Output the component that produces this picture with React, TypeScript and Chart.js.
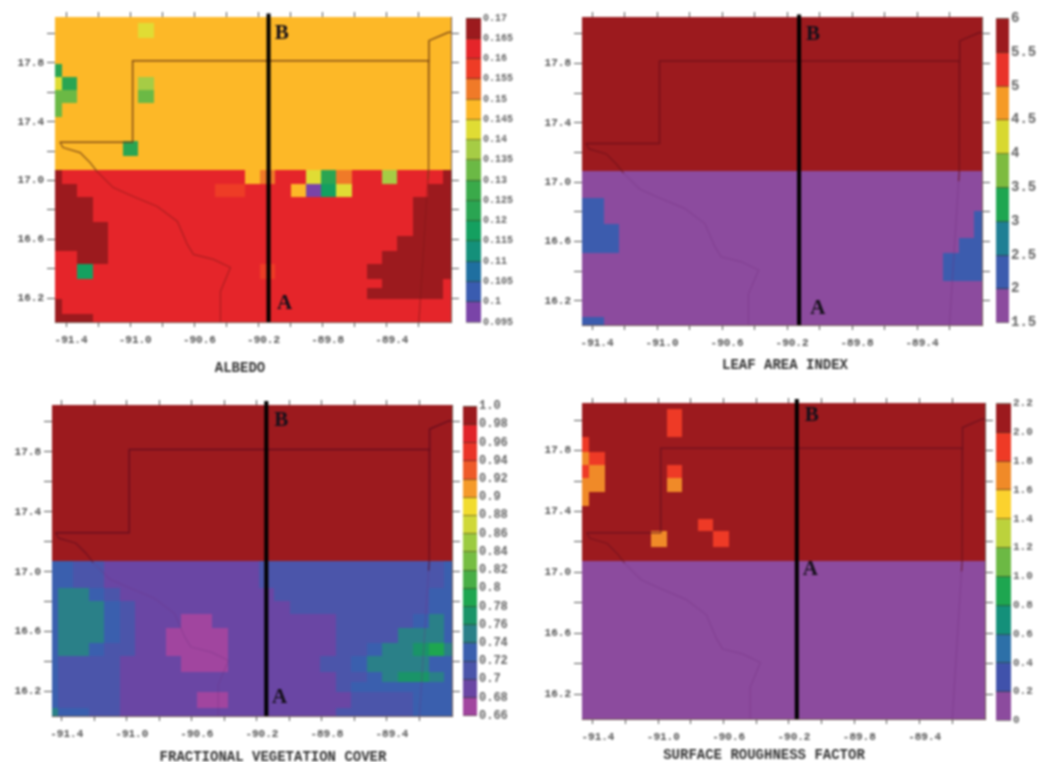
import React, { useEffect, useRef } from "react";
import { Chart, registerables } from "chart.js";

Chart.register(...registerables);

// ---- shared map axes ----
const lonMin = -91.465;
const lonMax = -89.0;
const latMin = 16.037;
const latMax = 18.113;
const xTickValues = [-91.4, -91.2, -91.0, -90.8, -90.6, -90.4, -90.2, -90.0, -89.8, -89.6, -89.4, -89.2];
const xTickLabels = ["-91.4", "", "-91.0", "", "-90.6", "", "-90.2", "", "-89.8", "", "-89.4", ""];
const yTickValues = [16.2, 16.4, 16.6, 16.8, 17.0, 17.2, 17.4, 17.6, 17.8, 18.0];
const yTickLabels = ["16.2", "", "16.6", "", "17.0", "", "17.4", "", "17.8", ""];

// ---- model grid cell edges ----
const lonEdges = [
  lonMin, -91.419, -91.324, -91.229, -91.134, -91.039, -90.944, -90.849, -90.754, -90.659, -90.564, -90.469, -90.374,
  -90.279, -90.184, -90.089, -89.994, -89.899, -89.804, -89.709, -89.614, -89.519, -89.424, -89.329, -89.234, -89.139,
  -89.044, -89.0,
];
const latEdges = [
  18.113, 18.068, 17.966, 17.884, 17.789, 17.7, 17.612, 17.524, 17.429, 17.347, 17.265, 17.163, 17.068, 16.973, 16.884,
  16.796, 16.714, 16.619, 16.517, 16.429, 16.327, 16.259, 16.19, 16.088, 16.037,
];

// ---- map outlines ----
const borderLon = [-91.44, -90.985, -90.985, -89.1375, -89.1375, -89.019, -88.98];
const borderLat = [17.26, 17.26, 17.816, 17.816, 17.952, 18.007, 18.01];
const belizeLon = [-89.1375, -89.14, -89.144, -89.2];
const belizeLat = [17.816, 17.07, 17.007, 16.037];
const riverLon = [-91.4375, -91.419, -91.3125, -91.25, -91.206, -91.106, -90.981, -90.831, -90.706, -90.644, -90.606, -90.481, -90.375, -90.4375, -90.4375, -90.4375];
const riverLat = [17.259, 17.224, 17.19, 17.122, 17.061, 16.952, 16.891, 16.823, 16.721, 16.565, 16.497, 16.463, 16.408, 16.245, 16.068, 16.037];

// ---- albedo: colour-bin index per cell, north to south ----
const albedoLevels = ["0.17", "0.165", "0.16", "0.155", "0.15", "0.145", "0.14", "0.135", "0.13", "0.125", "0.12", "0.115", "0.11", "0.105", "0.1", "0.095"];
const albedoColors = ["#9c1a1e", "#e5252a", "#ee3c26", "#f07a28", "#fdb827", "#e0dc34", "#a6cc45", "#6bb945", "#3aaa4a", "#2aa552", "#14a060", "#14907a", "#1f6fa0", "#3a5cb0", "#7a44a8", "#8c4b9e"];
const albedoRows = [
  "444444444444444444444444444",
  "444444544444444444444444444",
  "444444444444444444444444444",
  "444444444444444444444444444",
  "944444444444444444444444444",
  "594444644444444444444444444",
  "774444744444444444444444444",
  "744444444444444444444444444",
  "444444444444444444444444444",
  "444444444444444444444444444",
  "444449444444444444444444444",
  "444444444444444444444444444",
  "011111111111143115931161110",
  "00111111111221114ea51111100",
  "000111111111111111111111000",
  "000111111111111111111111000",
  "000011111111111111111111000",
  "000011111111111111111110000",
  "110011111111111111111100000",
  "11a111111111112111111000000",
  "111111111111111111111100001",
  "111111111111111111111000001",
  "011111111111111111111111111",
  "000111111111111111111111111",
];

// ---- leaf area index ----
const laiLevels = ["6", "5.5", "5", "4.5", "4", "3.5", "3", "2.5", "2", "1.5"];
const laiColors = ["#9c1a1e", "#e9332a", "#f59a26", "#d8d830", "#7dbb3f", "#1ea650", "#1f7f94", "#3c5cae", "#8c4b9e"];
const laiRows = [
  "000000000000000000000000000",
  "000000000000000000000000000",
  "000000000000000000000000000",
  "000000000000000000000000000",
  "000000000000000000000000000",
  "000000000000000000000000000",
  "000000000000000000000000000",
  "000000000000000000000000000",
  "000000000000000000000000000",
  "000000000000000000000000000",
  "000000000000000000000000000",
  "000000000000000000000000000",
  "888888888888888888888888888",
  "888888888888888888888888888",
  "778888888888888888888888888",
  "778888888888888888888888887",
  "777888888888888888888888887",
  "777888888888888888888888877",
  "888888888888888888888888777",
  "888888888888888888888888777",
  "888888888888888888888888888",
  "888888888888888888888888888",
  "888888888888888888888888888",
  "778888888888888888888888888",
];

// ---- fractional vegetation cover ----
const fvcLevels = ["1.0", "0.98", "0.96", "0.94", "0.92", "0.9", "0.88", "0.86", "0.84", "0.82", "0.8", "0.78", "0.76", "0.74", "0.72", "0.7", "0.68", "0.66"];
const fvcColors = ["#9c1a1e", "#e0242a", "#ea3428", "#ee5a28", "#f59a2a", "#f2dc2e", "#cfd838", "#9ccb40", "#76bd42", "#48ae46", "#1ea650", "#1a9468", "#2a8088", "#3a5fae", "#4b55aa", "#6a46a4", "#a1459f"];
const fvcRows = [
  "000000000000000000000000000",
  "000000000000000000000000000",
  "000000000000000000000000000",
  "000000000000000000000000000",
  "000000000000000000000000000",
  "000000000000000000000000000",
  "000000000000000000000000000",
  "000000000000000000000000000",
  "000000000000000000000000000",
  "000000000000000000000000000",
  "000000000000000000000000000",
  "000000000000000000000000000",
  "ddeeffffffffffeeeeeeeeeeeed",
  "ddeeffffffffffeeeeeeeeeeeed",
  "dccdeffffffffffeeeeeeeeeedd",
  "dcccdeffffffffffeeeeeeeeedd",
  "dcccdefffggffffffffeeeeedcd",
  "dcccdeffggggfffffffeeeecccd",
  "dccdeeffggggfffffffeedccbac",
  "deeeeffffgggffffffeedccccdd",
  "deeeeffffffffffffffeedcbbcd",
  "deeeeffffffffffffffeddddddd",
  "deeeefffffggffffffffeeeeddd",
  "cddeeffffffffffffffeeeeeddd",
];

// ---- surface roughness factor ----
const roughLevels = ["2.2", "2.0", "1.8", "1.6", "1.4", "1.2", "1.0", "0.8", "0.6", "0.4", "0.2", "0"];
const roughColors = ["#9c1a1e", "#ee3a26", "#f08a28", "#fbd22e", "#bcd23c", "#6cb944", "#1ea650", "#14907a", "#2d70a8", "#4052ab", "#8c4b9e"];
const roughRows = [
  "000000000000000000000000000",
  "000000100000000000000000000",
  "000000100000000000000000000",
  "100000000000000000000000000",
  "210000000000000000000000000",
  "120000100000000000000000000",
  "220000200000000000000000000",
  "200000000000000000000000000",
  "000000000000000000000000000",
  "000000001000000000000000000",
  "000002000100000000000000000",
  "000000000000000000000000000",
  "aaaaaaaaaaaaaaaaaaaaaaaaaaa",
  "aaaaaaaaaaaaaaaaaaaaaaaaaaa",
  "aaaaaaaaaaaaaaaaaaaaaaaaaaa",
  "aaaaaaaaaaaaaaaaaaaaaaaaaaa",
  "aaaaaaaaaaaaaaaaaaaaaaaaaaa",
  "aaaaaaaaaaaaaaaaaaaaaaaaaaa",
  "aaaaaaaaaaaaaaaaaaaaaaaaaaa",
  "aaaaaaaaaaaaaaaaaaaaaaaaaaa",
  "aaaaaaaaaaaaaaaaaaaaaaaaaaa",
  "aaaaaaaaaaaaaaaaaaaaaaaaaaa",
  "aaaaaaaaaaaaaaaaaaaaaaaaaaa",
  "aaaaaaaaaaaaaaaaaaaaaaaaaaa",
];

type PanelSpec = {
  title: string;
  rows: string[];
  colors: string[];
  levels: string[];
  xMin: number;
  transectLon: number;
  transectTop: number;
  bLabel: [number, number];
  aLabel: [number, number];
  canvas: { left: number; right: number };
  area: { left: number; right: number; top: number; bottom: number };
  titlePad: number;
  bar: { left: number; right: number; top: number; bottom: number };
  barFont: number;
  borderColor: string;
  riverUpper: string;
  riverLower: string;
};

const panels: PanelSpec[] = [
  {
    title: "ALBEDO", rows: albedoRows, colors: albedoColors, levels: albedoLevels,
    xMin: -91.469, transectLon: -90.1375, transectTop: 18.136,
    bLabel: [-90.056, 18.0], aLabel: [-90.0375, 16.165],
    canvas: { left: 0, right: 480 },
    area: { left: 55, right: 451, top: 17, bottom: 322 }, titlePad: 15,
    bar: { left: 466, right: 481, top: 18, bottom: 322 }, barFont: 10,
    borderColor: "rgba(110,60,20,0.85)", riverUpper: "rgba(110,60,20,0.85)", riverLower: "rgba(130,25,25,0.55)",
  },
  {
    title: "LEAF AREA INDEX", rows: laiRows, colors: laiColors, levels: laiLevels,
    xMin: -91.462, transectLon: -90.126, transectTop: 18.13,
    bLabel: [-90.04, 17.993], aLabel: [-90.01, 16.148],
    canvas: { left: 545, right: 1025 },
    area: { left: 582, right: 982, top: 17, bottom: 325 }, titlePad: 9,
    bar: { left: 996, right: 1009, top: 16, bottom: 325 }, barFont: 14,
    borderColor: "rgba(105,15,25,0.75)", riverUpper: "rgba(105,15,25,0.7)", riverLower: "rgba(115,45,125,0.35)",
  },
  {
    title: "FRACTIONAL VEGETATION COVER", rows: fvcRows, colors: fvcColors, levels: fvcLevels,
    xMin: -91.46, transectLon: -90.142, transectTop: 18.14,
    bLabel: [-90.05, 18.007], aLabel: [-90.06, 16.16],
    canvas: { left: 0, right: 546 },
    area: { left: 52, right: 452, top: 405, bottom: 716 }, titlePad: 10,
    bar: { left: 463, right: 477, top: 405, bottom: 717 }, barFont: 12,
    borderColor: "rgba(85,10,30,0.7)", riverUpper: "rgba(85,10,30,0.6)", riverLower: "rgba(110,50,130,0.3)",
  },
  {
    title: "SURFACE ROUGHNESS FACTOR", rows: roughRows, colors: roughColors, levels: roughLevels,
    xMin: -91.467, transectLon: -90.152, transectTop: 18.14,
    bLabel: [-90.06, 18.03], aLabel: [-90.07, 17.02],
    canvas: { left: 535, right: 993 },
    area: { left: 582, right: 985, top: 403, bottom: 719 }, titlePad: 5,
    bar: { left: 996, right: 1011, top: 403, bottom: 721 }, barFont: 11,
    borderColor: "rgba(100,15,30,0.7)", riverUpper: "rgba(100,15,30,0.6)", riverLower: "rgba(115,45,125,0.35)",
  },
];

const TOP_AXIS = 12;
const X_AXIS = 24;
const TITLE_FONT = 14;
const MONO = "'Liberation Mono', monospace";
const SPLIT_LAT = 17.068;

const imageCache = new Map<string, HTMLCanvasElement>();
function cellImage(color: string, w: number, h: number) {
  const key = `${color}|${w}|${h}`;
  let c = imageCache.get(key);
  if (!c) {
    c = document.createElement("canvas");
    c.width = w;
    c.height = h;
    const g = c.getContext("2d")!;
    g.fillStyle = color;
    g.fillRect(0, 0, w, h);
    imageCache.set(key, c);
  }
  return c;
}

function points(lon: number[], lat: number[]) {
  return lon.map((x, i) => ({ x, y: lat[i] }));
}

const letterPlugin = {
  id: "letters",
  afterDatasetsDraw(chart: any, _a: any, opts: any) {
    const { ctx, scales } = chart;
    ctx.save();
    ctx.font = "bold 21px 'Liberation Serif', serif";
    ctx.fillStyle = "#15101a";
    ctx.textAlign = "center";
    ctx.textBaseline = "middle";
    for (const l of opts.items) {
      ctx.fillText(l.text, scales.x.getPixelForValue(l.lon), scales.y.getPixelForValue(l.lat));
    }
    ctx.restore();
  },
};

function buildMap(canvas: HTMLCanvasElement, p: PanelSpec) {
  const cells: any[] = [];
  p.rows.forEach((row, r) => {
    for (let c = 0; c < row.length; c++) {
      const x0 = Math.max(lonEdges[c], p.xMin);
      const x1 = lonEdges[c + 1];
      const y0 = latEdges[r];
      const y1 = latEdges[r + 1];
      cells.push({ x: (x0 + x1) / 2, y: (y0 + y1) / 2, x0, x1, y0, y1, v: parseInt(row[c], 36) });
    }
  });
  const tickFont = { family: MONO, size: 11, weight: "bold" as const };
  const tickColor = "#555";
  const outline = "rgba(70,40,30,0.75)";
  const W = p.canvas.right - p.canvas.left;
  const lowerSegment = (upper: string) => ({
    borderColor: (ctx: any) => (ctx.p0.parsed.y <= SPLIT_LAT + 0.001 ? p.riverLower : upper),
  });
  return new Chart(canvas, {
    type: "scatter",
    data: {
      datasets: [
        {
          data: [{ x: p.transectLon, y: p.transectTop }, { x: p.transectLon, y: latMin }],
          showLine: true, borderColor: "#000", borderWidth: 4, pointRadius: 0, clip: false, order: 0,
        },
        { data: points(borderLon, borderLat), showLine: true, borderColor: p.borderColor, borderWidth: 1.5, pointRadius: 0, order: 1 },
        { data: points(belizeLon, belizeLat), showLine: true, borderColor: p.borderColor, borderWidth: 1.3, pointRadius: 0, order: 1, segment: lowerSegment(p.borderColor) },
        { data: points(riverLon, riverLat), showLine: true, borderColor: p.riverUpper, borderWidth: 1.2, pointRadius: 0, order: 2, segment: lowerSegment(p.riverUpper) },
        {
          data: cells, showLine: false, pointRadius: 5, borderWidth: 0, order: 3,
          pointStyle: (ctx: any) => {
            const d = ctx.raw;
            if (!d) return "rect";
            const sx = ctx.chart.scales.x;
            const sy = ctx.chart.scales.y;
            const w = Math.abs(sx.getPixelForValue(d.x1) - sx.getPixelForValue(d.x0));
            const h = Math.abs(sy.getPixelForValue(d.y1) - sy.getPixelForValue(d.y0));
            return cellImage(p.colors[d.v], Math.ceil(w) + 1, Math.ceil(h) + 1);
          },
        } as any,
      ],
    },
    options: {
      animation: false,
      responsive: false,
      events: [],
      layout: { autoPadding: false, padding: 0 },
      plugins: {
        legend: { display: false },
        tooltip: { enabled: false },
        title: {
          display: true, text: p.title, position: "bottom", color: "#333",
          font: { family: MONO, size: TITLE_FONT, weight: "bold", lineHeight: 1 },
          padding: { top: p.titlePad, bottom: 0 },
        },
        letters: { items: [{ text: "B", lon: p.bLabel[0], lat: p.bLabel[1] }, { text: "A", lon: p.aLabel[0], lat: p.aLabel[1] }] },
      } as any,
      scales: {
        x: {
          type: "linear", position: "bottom", min: p.xMin, max: lonMax,
          afterBuildTicks: (a: any) => { a.ticks = xTickValues.map((value) => ({ value })); },
          afterFit: (a: any) => { a.height = X_AXIS; },
          ticks: { autoSkip: false, maxRotation: 0, color: tickColor, font: tickFont, padding: 7, labelOffset: 5, callback: (_v: any, i: number) => xTickLabels[i] },
          grid: { drawOnChartArea: false, tickLength: 5, color: tickColor },
          border: { color: outline },
        },
        x2: {
          type: "linear", axis: "x", position: "top", min: p.xMin, max: lonMax,
          afterBuildTicks: (a: any) => { a.ticks = xTickValues.map((value) => ({ value })); },
          afterFit: (a: any) => { a.height = TOP_AXIS; },
          ticks: { display: false },
          grid: { drawOnChartArea: false, tickLength: 5, color: tickColor },
          border: { color: outline },
        },
        y: {
          type: "linear", position: "left", min: latMin, max: latMax,
          afterBuildTicks: (a: any) => { a.ticks = yTickValues.map((value) => ({ value })); },
          afterFit: (a: any) => { a.width = p.area.left - p.canvas.left; },
          ticks: { autoSkip: false, color: tickColor, font: tickFont, padding: 3, callback: (_v: any, i: number) => yTickLabels[i] },
          grid: { drawOnChartArea: false, tickLength: 8, color: tickColor },
          border: { color: outline },
        },
        y2: {
          type: "linear", axis: "y", position: "right", min: latMin, max: latMax,
          afterBuildTicks: (a: any) => { a.ticks = yTickValues.map((value) => ({ value })); },
          afterFit: (a: any) => { a.width = W - (p.area.right - p.canvas.left); },
          ticks: { display: false },
          grid: { drawOnChartArea: false, tickLength: 8, color: tickColor },
          border: { color: outline },
        },
      } as any,
    },
    plugins: [letterPlugin],
  } as any);
}

function buildBar(canvas: HTMLCanvasElement, p: PanelSpec) {
  const vals = p.levels.map(Number);
  const datasets = p.colors.map((color, i) => ({
    data: [[vals[i + 1], vals[i]]] as any,
    backgroundColor: color,
    borderWidth: 0,
    barPercentage: 1,
    categoryPercentage: 1,
    grouped: false,
  }));
  return new Chart(canvas, {
    type: "bar",
    data: { labels: [""], datasets },
    options: {
      animation: false,
      responsive: false,
      events: [],
      layout: { autoPadding: false, padding: { top: 8, bottom: 8 } },
      plugins: { legend: { display: false }, tooltip: { enabled: false } },
      scales: {
        x: { display: false },
        y: {
          type: "linear", position: "right", min: vals[vals.length - 1], max: vals[0],
          afterBuildTicks: (a: any) => { a.ticks = vals.map((value) => ({ value })).reverse(); },
          afterFit: (a: any) => { a.width = 50; },
          ticks: {
            autoSkip: false, color: "#666", padding: 2,
            font: { family: MONO, size: p.barFont, weight: "bold" },
            callback: (_v: any, i: number) => p.levels[p.levels.length - 1 - i],
          },
          grid: { z: 1, drawTicks: false, color: "rgba(50,50,30,0.55)" },
          border: { display: false },
        },
      } as any,
    },
  } as any);
}

export default function App() {
  const mapRefs = useRef<(HTMLCanvasElement | null)[]>([]);
  const barRefs = useRef<(HTMLCanvasElement | null)[]>([]);

  useEffect(() => {
    const charts = panels.flatMap((p, i) => [buildMap(mapRefs.current[i]!, p), buildBar(barRefs.current[i]!, p)]);
    return () => charts.forEach((c) => c.destroy());
  }, []);

  return (
    <div style={{ position: "absolute", left: 0, top: 0, width: 1041, height: 762, overflow: "hidden", background: "#fff" }}>
      {panels.map((p, i) => {
        const canvasTop = p.area.top - TOP_AXIS;
        const canvasH = TOP_AXIS + (p.area.bottom - p.area.top) + X_AXIS + TITLE_FONT + p.titlePad;
        return (
          <React.Fragment key={p.title}>
            <canvas
              ref={(el) => { mapRefs.current[i] = el; }}
              width={p.canvas.right - p.canvas.left}
              height={canvasH}
              style={{ position: "absolute", left: p.canvas.left, top: canvasTop, filter: "blur(0.8px)" }}
            />
            <canvas
              ref={(el) => { barRefs.current[i] = el; }}
              width={p.bar.right - p.bar.left + 50}
              height={p.bar.bottom - p.bar.top + 16}
              style={{ position: "absolute", left: p.bar.left, top: p.bar.top - 8, filter: "blur(0.8px)" }}
            />
          </React.Fragment>
        );
      })}
    </div>
  );
}
